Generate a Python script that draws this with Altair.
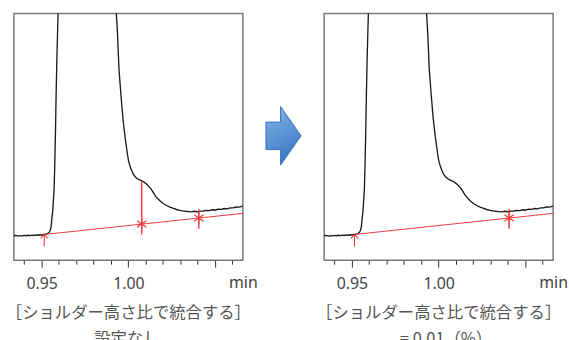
import altair as alt
import pandas as pd

# ---- chromatogram trace (time in min, detector signal in arbitrary units) ----
trace_time = [
    0.9340, 0.93531, 0.93646, 0.93760, 0.93874, 0.93989, 0.94103, 0.94217, 0.94331,
    0.94446, 0.94560, 0.94674, 0.94789, 0.94903, 0.95017, 0.95131, 0.95246, 0.95343,
    0.95417, 0.95491, 0.95549, 0.95589, 0.95629, 0.95663, 0.95720, 0.95760, 0.95800,
    0.95834, 0.95874, 0.95914, 0.95949, 0.9750,
    0.99303, 0.99343, 0.99377, 0.99417, 0.99457, 0.99514, 0.99571, 0.99629, 0.99686,
    0.99749, 0.99817, 0.99886, 0.99949, 1.00006, 1.00103, 1.00200, 1.00291, 1.00406,
    1.00520, 1.00646, 1.00771, 1.00874, 1.01017, 1.01131, 1.01246, 1.01360, 1.01474,
    1.01589, 1.01720, 1.01846, 1.02006, 1.02200, 1.02389, 1.02560, 1.02771, 1.02960,
    1.03131, 1.03303, 1.03474, 1.03646, 1.03817, 1.03989, 1.04160, 1.04331, 1.04503,
    1.04674, 1.04846, 1.05017, 1.05189, 1.05360, 1.05531, 1.05703, 1.05874, 1.06046,
    1.06217, 1.06389, 1.06600,
]
trace_signal = [
    24.7, 25.0, 24.4, 24.9, 24.6, 25.1, 24.7, 25.2, 24.8,
    25.3, 25.0, 25.5, 25.2, 25.7, 25.5, 26.1, 26.2, 27.0,
    28.0, 30.0, 34.0, 42.0, 48.0, 56.0, 72.0, 98.0, 132.0,
    166.0, 200.0, 227.0, 249.0, 3000.0,
    249.0, 238.0, 226.7, 210.0, 193.3, 180.0, 166.7, 155.0, 143.3,
    133.0, 123.3, 114.5, 106.7, 100.5, 94.5, 90.0, 86.7, 84.0,
    82.2, 81.0, 80.0, 79.2, 77.3, 75.5, 73.3, 70.5, 67.3,
    64.2, 61.7, 59.5, 57.3, 55.2, 53.7, 52.5, 51.2, 50.4,
    49.8, 49.4, 49.1, 48.8, 49.4, 48.9, 49.6, 49.7, 50.3,
    50.0, 50.9, 50.7, 51.5, 51.3, 52.2, 51.9, 52.9, 52.8,
    53.7, 53.6, 54.7,
]

# ---- integration baseline (red) ----
baseline_time = [0.9515, 1.0660]
baseline_signal = [26.0, 47.3]
start_time = [0.9515]
start_signal = [26.0]

# left panel: shoulder split + peak end ; right panel: peak end only
left_drop_time = [1.0077, 1.0406]
left_drop_star = [36.5, 42.7]
left_drop_top = [80.0, 51.7]
left_drop_bottom = [26.0, 31.7]
right_drop_time = [1.0406]
right_drop_star = [42.7]
right_drop_top = [51.7]
right_drop_bottom = [31.7]

minor_ticks = [0.94, 0.96, 0.97, 0.98, 0.99, 1.01, 1.02, 1.03, 1.04, 1.06]
major_ticks = [0.95, 1.00, 1.05]

caption_1 = "［ショルダー高さ比で統合する］"
left_caption_2 = "設定なし"
right_caption_2 = "= 0.01（%）"

X_DOMAIN = [0.934, 1.066]
Y_DOMAIN = [0, 249]
RED = "#ee3b3b"
W, H = 231, 249

trace_df = pd.DataFrame({"t": trace_time, "s": trace_signal})
base_df = pd.DataFrame({"t": baseline_time, "s": baseline_signal})
start_df = pd.DataFrame({"t": start_time, "s": start_signal})

STAR = "M0,-1L0,1M-0.8,-0.55L0.8,0.55M-0.8,0.55L0.8,-0.55"
UP = "M0,-1L0,1M-0.6,-0.35L0,-1L0.6,-0.35"
ARROW = "M-0.6,-0.47L-0.1,-0.47L-0.1,-1L0.6,0L-0.1,1L-0.1,0.47L-0.6,0.47Z"


def panel(drop_t, drop_star, drop_top, drop_bot, cap2, cap2_x):
    xs = alt.Scale(domain=X_DOMAIN, nice=False, zero=False)
    ys = alt.Scale(domain=Y_DOMAIN, nice=False, zero=False)
    major_axis = alt.Axis(
        orient="bottom", values=major_ticks, tickSize=7, tickColor="#333",
        tickWidth=1, domain=False, grid=False,
        labelExpr="abs(datum.value - 1.05) < 0.001 ? '' : format(datum.value, '.2f')",
        labelFont="Noto Sans", labelFontSize=16, labelColor="#444",
        labelPadding=8, labelFlush=False, labelOverlap=False,
        title="min", titleFont="Noto Sans", titleFontSize=16,
        titleFontWeight="normal", titleColor="#444", titleX=231, titleY=27,
        titleAlign="center", titleBaseline="alphabetic",
    )
    minor_axis = alt.Axis(
        orient="bottom", values=minor_ticks, tickSize=4, tickColor="#333",
        tickWidth=1, domain=False, grid=False, labels=False, title=None,
    )
    line = alt.Chart(trace_df).mark_line(
        clip=True, color="#1a1a1a", strokeWidth=1.35
    ).encode(
        x=alt.X("t:Q", scale=xs, axis=major_axis),
        y=alt.Y("s:Q", scale=ys, axis=None),
    )
    base = alt.Chart(base_df).mark_line(
        clip=True, color=RED, strokeWidth=1
    ).encode(
        x=alt.X("t:Q", axis=minor_axis),
        y=alt.Y("s:Q", axis=None),
    )
    ddf = pd.DataFrame({"t": drop_t, "star": drop_star, "top": drop_top, "bot": drop_bot})
    rules = alt.Chart(ddf).mark_rule(color=RED, strokeWidth=1.4).encode(
        x=alt.X("t:Q", axis=None), y=alt.Y("top:Q", axis=None), y2="bot:Q"
    )
    stars = alt.Chart(ddf).mark_point(
        shape=STAR, size=140, filled=False, color=RED, strokeWidth=1.2, opacity=1
    ).encode(x=alt.X("t:Q", axis=None), y=alt.Y("star:Q", axis=None))
    start = alt.Chart(start_df).mark_point(
        shape=UP, size=144, filled=False, color=RED, strokeWidth=1.1,
        opacity=1, yOffset=6
    ).encode(x=alt.X("t:Q", axis=None), y=alt.Y("s:Q", axis=None))
    cap_df = pd.DataFrame({"a": [caption_1], "b": [cap2]})
    cap1 = alt.Chart(cap_df).mark_text(
        font="Noto Sans CJK JP", fontSize=16.5, color="#555", baseline="middle",
        align="center"
    ).encode(x=alt.value(W / 2), y=alt.value(302), text="a:N")
    cap2m = alt.Chart(cap_df).mark_text(
        font="Noto Sans CJK JP", fontSize=16.5, color="#555", baseline="middle",
        align="center"
    ).encode(x=alt.value(cap2_x), y=alt.value(328), text="b:N")
    return alt.layer(line, base, rules, stars, start, cap1, cap2m).resolve_axis(
        x="independent"
    ).properties(width=W, height=H)


left = panel(left_drop_time, left_drop_star, left_drop_top, left_drop_bottom,
             left_caption_2, 114)
right = panel(right_drop_time, right_drop_star, right_drop_top, right_drop_bottom,
              right_caption_2, 123)

arrow = alt.Chart(pd.DataFrame({"k": [1]})).mark_point(
    shape=ARROW, size=3481, filled=True, opacity=1,
    fill=alt.Gradient(
        gradient="linear",
        stops=[alt.GradientStop(color="#86b9e6", offset=0),
               alt.GradientStop(color="#3a78c6", offset=1)],
        x1=0, x2=0.3, y1=0, y2=1,
    ),
    stroke="#3b6fb3", strokeWidth=1,
).encode(x=alt.value(41), y=alt.value(123.5)).properties(
    width=82, height=H, view=alt.ViewBackground(stroke="transparent")
)

chart = alt.hconcat(left, arrow, right, spacing=0, bounds="flush").properties(
    padding={"left": 5, "top": 11, "right": 0, "bottom": 0}
).configure_view(stroke="#7a7a7a", strokeWidth=1.5)

chart.save("out.html", embed_options={"renderer": "svg", "actions": False})
